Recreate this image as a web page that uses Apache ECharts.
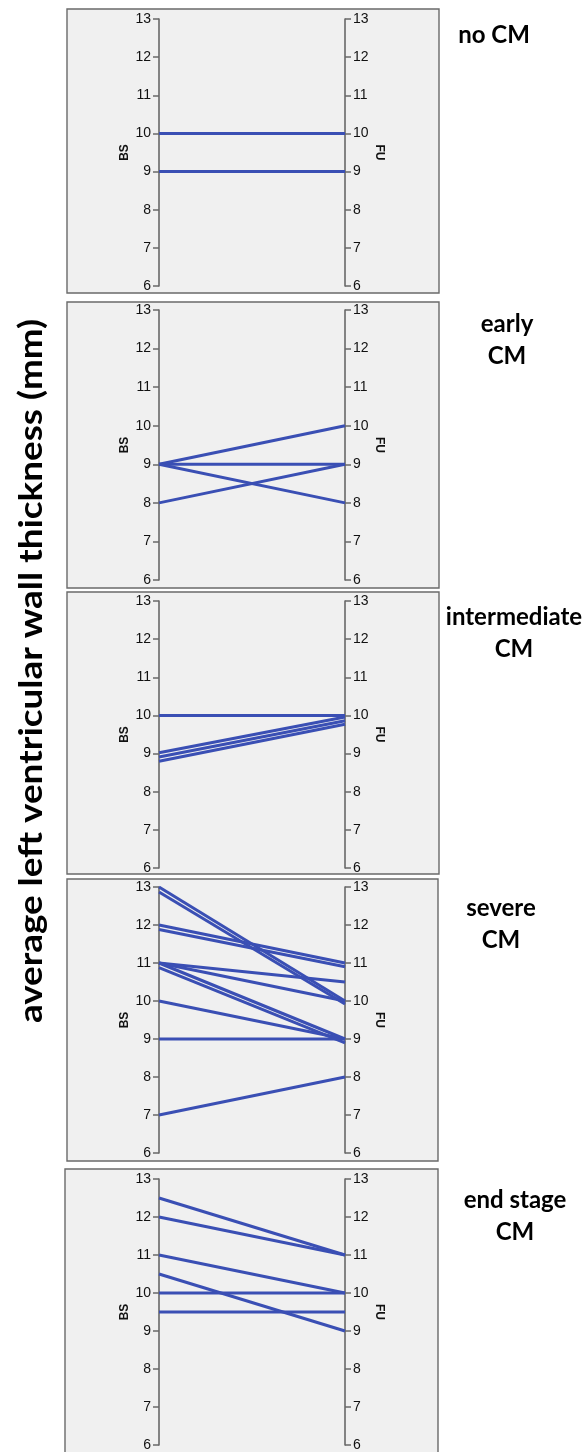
<!DOCTYPE html>
<html>
<head>
<meta charset="utf-8">
<script src="https://cdn.jsdelivr.net/npm/echarts@6/dist/echarts.min.js"></script>
<style>
html,body{margin:0;padding:0;background:#fff;}
#c{width:587px;height:1452px;}
</style>
</head>
<body>
<div id="c"></div>
<script>
// ---- data ----
const categories = ['BS', 'FU'];
const groupNames = ['no CM', 'early\nCM', 'intermediate\nCM', 'severe\nCM', 'end stage\nCM'];
const yTickMin = 6;
const yTickMax = 13;
const yTickStep = 1;

const noCM_BS = [10, 9];
const noCM_FU = [10, 9];

const early_BS = [9, 9, 9, 8];
const early_FU = [10, 9, 8, 9];

const inter_BS = [10, 9.02, 8.91, 8.8];
const inter_FU = [10, 9.96, 9.86, 9.77];

const severe_BS = [13, 12.87, 12, 11.88, 11, 11, 11, 10.88, 10, 9, 7];
const severe_FU = [10, 9.92, 11, 10.9, 10.5, 10, 9, 8.9, 9, 9, 8];

const end_BS = [12.5, 12, 11, 10.5, 10, 9.5];
const end_FU = [11, 11, 10, 9, 10, 9.5];

const yTitle = 'average left ventricular wall thickness (mm)';

// ---- layout ----
const panels = [
  {bs: noCM_BS, fu: noCM_FU, top: 19, h: 267, box: [67, 9, 372, 284], lx: 494, ly: 35},
  {bs: early_BS, fu: early_FU, top: 310, h: 270, box: [67, 302, 372, 286], lx: 507, ly: 340},
  {bs: inter_BS, fu: inter_FU, top: 601, h: 267, box: [67, 592, 372, 282], lx: 514, ly: 633},
  {bs: severe_BS, fu: severe_FU, top: 887, h: 266, box: [67, 879, 371, 282], lx: 501, ly: 924},
  {bs: end_BS, fu: end_FU, top: 1179, h: 268, box: [65, 1169, 373, 300], lx: 515, ly: 1216}
];
const LINE = '#3a4fb4';
const AXIS = '#686868';

const grids = [], xAxes = [], yAxes = [], series = [], graphics = [];
panels.forEach((p, i) => {
  grids.push({left: 159, width: 186, top: p.top, height: p.h});
  xAxes.push({type: 'category', data: categories, gridIndex: i, boundaryGap: false, show: false});
  const yBase = {
    type: 'value', gridIndex: i, min: yTickMin, max: yTickMax, interval: yTickStep,
    splitLine: {show: false},
    axisLine: {show: true, lineStyle: {color: AXIS, width: 1.6}},
    axisTick: {show: true, length: 6, lineStyle: {color: AXIS, width: 1.5}},
    axisLabel: {color: '#111', fontSize: 14, fontFamily: 'Liberation Sans, Arial', margin: 8},
    nameLocation: 'middle', nameGap: 28,
    nameTextStyle: {color: '#111', fontSize: 12, fontWeight: 'bold', fontFamily: 'Liberation Sans, Arial'}
  };
  yAxes.push(Object.assign({}, yBase, {position: 'left', name: categories[0], nameRotate: 90}));
  yAxes.push(Object.assign({}, yBase, {position: 'right', name: categories[1], nameRotate: -90}));
  p.bs.forEach((v, k) => {
    series.push({
      type: 'line', xAxisIndex: i, yAxisIndex: 2 * i,
      data: [v, p.fu[k]], symbol: 'none', silent: true,
      lineStyle: {color: LINE, width: 3}, z: 5
    });
  });
  graphics.push({
    type: 'rect', z: -10,
    shape: {x: p.box[0], y: p.box[1], width: p.box[2], height: p.box[3]},
    style: {fill: '#f0f0f0', stroke: '#6a6a6a', lineWidth: 1.4}
  });
  graphics.push({
    type: 'text', z: 10,
    style: {
      text: groupNames[i], x: p.lx, y: p.ly, align: 'center', verticalAlign: 'middle',
      font: 'bold 24px Lato, "Open Sans", sans-serif', fill: '#000', lineHeight: 32
    }
  });
});
graphics.push({
  type: 'text', z: 10, rotation: Math.PI / 2, x: 32, y: 671, scaleX: 1.15,
  style: {
    text: yTitle, x: 0, y: 0, align: 'center', verticalAlign: 'middle',
    font: 'bold 32px Lato, "Open Sans", sans-serif', fill: '#000'
  }
});

const chart = echarts.init(document.getElementById('c'), null, {renderer: 'canvas'});
chart.setOption({
  animation: false,
  backgroundColor: '#fff',
  grid: grids, xAxis: xAxes, yAxis: yAxes, series: series,
  graphic: graphics
});
</script>
</body>
</html>
